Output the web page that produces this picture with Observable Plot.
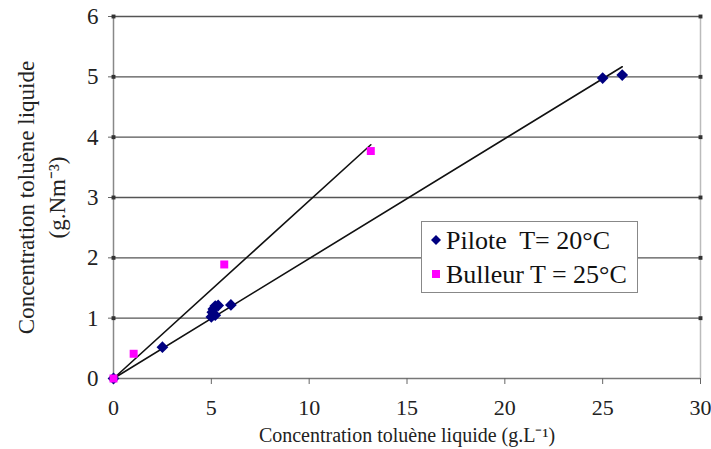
<!DOCTYPE html>
<html>
<head>
<meta charset="utf-8">
<script src="https://cdn.jsdelivr.net/npm/d3@7"></script>
<script src="https://cdn.jsdelivr.net/npm/@observablehq/plot@0.6"></script>
<style>
  body { margin: 0; background: #fff; }
  #wrap { position: relative; width: 711px; height: 449px; font-family: 'Liberation Serif', 'Times New Roman', serif; }
  #legend { position: absolute; left: 421px; top: 221px; width: 217px; height: 72px; border: 1.5px solid #888; background: #fff; box-sizing: border-box; font-family: 'Liberation Serif', 'Times New Roman', serif; }
  .row { position: absolute; left: 9px; font-size: 26px; line-height: 26px; white-space: pre; color: #111; font-family: 'Liberation Serif', 'Times New Roman', serif; }
  .row svg { vertical-align: middle; margin-right: 5px; position: relative; top: -3px; }
</style>
</head>
<body>
<div id="wrap"></div>
<script>
// Series: Pilote T= 20°C
const piloteX = [0, 2.5, 5.0, 5.05, 5.1, 5.2, 5.35, 5.2, 6.0, 25.0, 26.0];
const piloteY = [0, 0.52, 1.02, 1.10, 1.15, 1.20, 1.21, 1.05, 1.22, 4.98, 5.03];
// Series: Bulleur T = 25°C
const bulleurX = [0, 1.03, 5.66, 13.15];
const bulleurY = [0, 0.41, 1.89, 3.77];

const xTicks = [0, 5, 10, 15, 20, 25, 30];
const yTicks = [0, 1, 2, 3, 4, 5, 6];
const gridY = [1, 2, 3, 4, 5, 6];

const seriesNames = ["Pilote  T= 20°C", "Bulleur T = 25°C"];
const seriesColors = ["#000080", "#ff00ff"];

const xLabel = "Concentration toluène liquide (g.L⁻¹)";
const yLabel1 = "Concentration toluène liquide";
const yLabel2 = "(g.Nm⁻³)";

const FONT = "'Liberation Serif', 'Times New Roman', serif";

const pilote = piloteX.map((x, i) => ({x, y: piloteY[i]}));
const bulleur = bulleurX.map((x, i) => ({x, y: bulleurY[i]}));

// Trend lines through the origin (least squares), spanning each series' x extent
function originFit(data) {
  const sxy = d3.sum(data, d => d.x * d.y);
  const sxx = d3.sum(data, d => d.x * d.x);
  const k = sxy / sxx;
  const xmax = d3.max(data, d => d.x);
  return [{x: 0, y: 0}, {x: xmax, y: k * xmax}];
}
const fitP = originFit(pilote);
const fitB = originFit(bulleur);

const chart = Plot.plot({
  width: 711,
  height: 449,
  marginLeft: 113,
  marginRight: 11,
  marginTop: 16,
  marginBottom: 71,
  style: {fontFamily: FONT, background: "#fff", overflow: "visible"},
  x: {domain: [0, 30]},
  y: {domain: [0, 6]},
  marks: [
    Plot.ruleY(gridY, {stroke: "#555", strokeWidth: 1.4}),
    Plot.ruleX([30], {stroke: "#bbb", strokeWidth: 1.5}),
    Plot.ruleX([0], {stroke: "#888", strokeWidth: 1.5}),
    Plot.ruleY([0], {stroke: "#777", strokeWidth: 1.5}),
    Plot.axisX({ticks: xTicks, tickSize: 6, tickPadding: 15, fontSize: 22, fontFamily: FONT, stroke: "#666", color: "#222", label: null, tickFormat: d => d}),
    Plot.axisY({ticks: yTicks, tickSize: 5, tickPadding: 10, fontSize: 23, fontFamily: FONT, stroke: "#666", color: "#222", label: null, tickFormat: d => d}),
    Plot.dot(gridY, {x: () => 0, y: d => d, symbol: "square", r: 2.2, fill: "#333"}),
    Plot.dot(gridY, {x: () => 30, y: d => d, symbol: "square", r: 2.2, fill: "#333"}),
    Plot.line(fitP, {x: "x", y: "y", stroke: "#111", strokeWidth: 1.6}),
    Plot.line(fitB, {x: "x", y: "y", stroke: "#111", strokeWidth: 1.6}),
    Plot.dot(pilote, {x: "x", y: "y", symbol: "diamond2", r: 5.3, fill: seriesColors[0]}),
    Plot.dot(bulleur, {x: "x", y: "y", symbol: "square", r: 4.5, fill: seriesColors[1]}),
    Plot.text([xLabel], {frameAnchor: "bottom", dy: 63, fontSize: 20, fontFamily: FONT, fill: "#222"}),
    Plot.text([yLabel1], {frameAnchor: "left", textAnchor: "middle", dx: -87, rotate: -90, fontSize: 23, fontFamily: FONT, fill: "#222"}),
    Plot.text([yLabel2], {frameAnchor: "left", textAnchor: "middle", dx: -56, rotate: -90, fontSize: 23, fontFamily: FONT, fill: "#222"})
  ]
});

const wrap = document.getElementById("wrap");
wrap.appendChild(chart);

const legend = document.createElement("div");
legend.id = "legend";
const tops = [6, 40];
seriesNames.forEach((name, i) => {
  const row = document.createElement("div");
  row.className = "row";
  row.style.top = tops[i] + "px";
  const sym = i === 0
    ? `<svg width="10" height="10"><path d="M5,0L10,5L5,10L0,5Z" fill="${seriesColors[i]}"/></svg>`
    : `<svg width="10" height="10"><rect x="1" y="1" width="8" height="8" fill="${seriesColors[i]}"/></svg>`;
  row.innerHTML = sym + name;
  legend.appendChild(row);
});
wrap.appendChild(legend);
</script>
</body>
</html>
